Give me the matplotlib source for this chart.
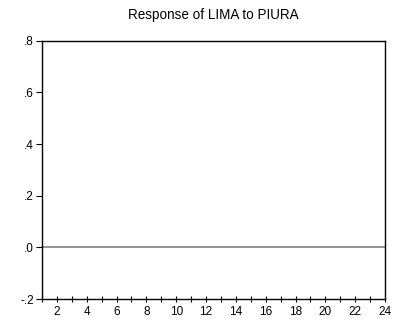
import matplotlib
matplotlib.use("Agg")
import matplotlib.pyplot as plt

plt.rcParams['font.family'] = ['Liberation Sans', 'DejaVu Sans']

periods = list(range(1, 25))
response = [0.0] * 24
y_ticks = [-0.2, 0.0, 0.2, 0.4, 0.6, 0.8]
y_labels = ["-.2", ".0", ".2", ".4", ".6", ".8"]
x_ticks = list(range(2, 25, 2))
x_labels = [str(v) for v in x_ticks]

fig = plt.figure(figsize=(4.01, 3.20), dpi=100)
ax = fig.add_axes([42 / 401, 1 - 299 / 320, (385 - 42) / 401, (299 - 40.7) / 320])

ax.plot(periods, response, color="#7f7f7f", linewidth=1.2)

ax.set_xlim(1, 24)
ax.set_ylim(-0.2, 0.8)
ax.set_yticks(y_ticks)
ax.set_yticklabels(y_labels)
ax.set_xticks(x_ticks)
ax.set_xticklabels(x_labels)
ax.set_xticks(list(range(1, 25, 2)), minor=True)

for s in ax.spines.values():
    s.set_color("black")
    s.set_linewidth(1.0)

ax.tick_params(axis='y', direction='out', length=4, width=0.8, labelsize=8.5, pad=2)
ax.tick_params(axis='x', which='both', direction='inout', length=5, width=0.8, labelsize=8.5, pad=2.5)
ax.tick_params(axis='x', which='minor', labelbottom=False)

ax.set_title("Response of LIMA to PIURA", fontsize=9.75, pad=15.5)

fig.savefig("out.png", dpi=100)
